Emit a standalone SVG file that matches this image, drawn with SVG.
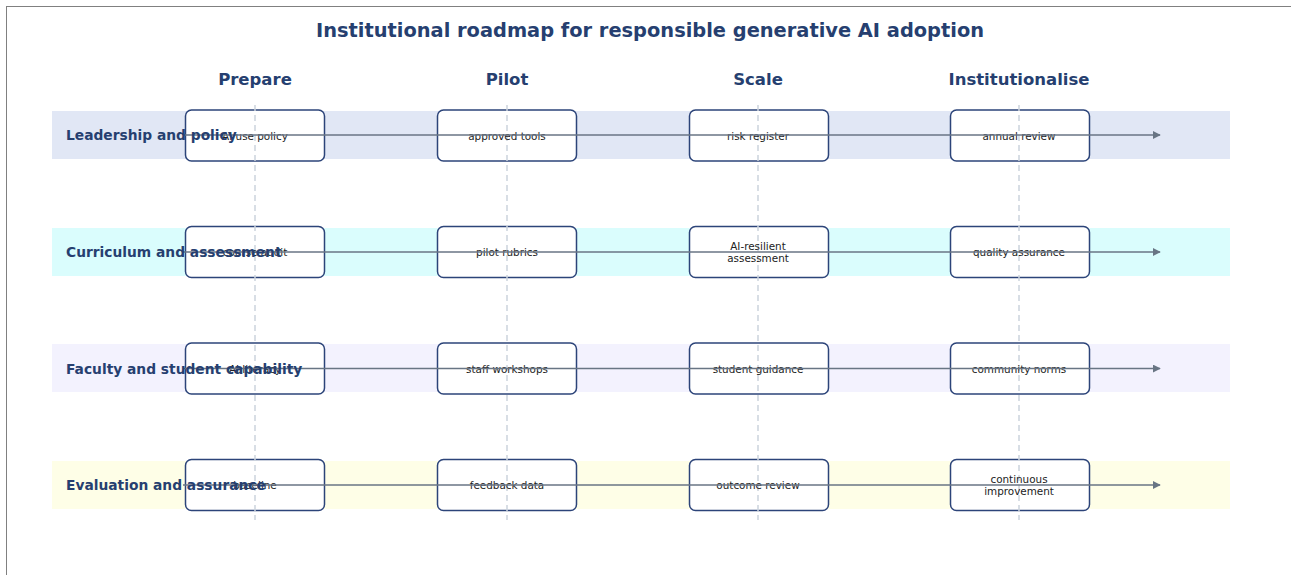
<svg xmlns="http://www.w3.org/2000/svg" width="1291" height="575" viewBox="0 0 1291 575">
  <defs>
    <marker id="arrow" viewBox="0 0 10 10" refX="9" refY="5" markerWidth="8" markerHeight="8" markerUnits="userSpaceOnUse" orient="auto">
      <path d="M0,0 L10,5 L0,10 z" fill="#687584"/>
    </marker>
    <style>
      .title { font-family: "DejaVu Sans", "Liberation Sans", sans-serif; font-weight: bold; font-size: 19.4px; fill: #263f70; text-anchor: middle; }
      .phase { font-family: "DejaVu Sans", "Liberation Sans", sans-serif; font-weight: bold; font-size: 16.5px; fill: #263f70; text-anchor: middle; }
      .lane { font-family: "DejaVu Sans", "Liberation Sans", sans-serif; font-weight: bold; font-size: 13.8px; fill: #263f70; dominant-baseline: central; }
      .box { fill: #ffffff; stroke: #2c4479; stroke-width: 1.5; }
      .label { font-family: "DejaVu Sans", "Liberation Sans", sans-serif; font-size: 10.4px; fill: #222222; text-anchor: middle; dominant-baseline: central; }
      .guide { stroke: #ccd3dd; stroke-width: 1.5; stroke-dasharray: 6 4; }
      .flow { stroke: #687584; stroke-width: 1.6; fill: none; marker-end: url(#arrow); }
    </style>
  </defs>

  <rect x="0" y="0" width="1291" height="575" fill="#ffffff"/>
  <rect x="6.5" y="6.5" width="1290" height="575" fill="none" stroke="#808080" stroke-width="1"/>

  <text class="title" x="650" y="37">Institutional roadmap for responsible generative AI adoption</text>

  <!-- phase headers -->
  <g id="phases">
    <text class="phase" x="255" y="85">Prepare</text>
    <text class="phase" x="507" y="85">Pilot</text>
    <text class="phase" x="758" y="85">Scale</text>
    <text class="phase" x="1019" y="85">Institutionalise</text>
  </g>

  <!-- swimlane bands -->
  <g id="bands">
    <rect x="52" y="111" width="1178" height="48" fill="#e1e7f5"/>
    <rect x="52" y="228" width="1178" height="48" fill="#dafdfd"/>
    <rect x="52" y="344" width="1178" height="48" fill="#f3f2fe"/>
    <rect x="52" y="461" width="1178" height="48" fill="#fefee7"/>
  </g>

  <!-- milestone boxes -->
  <g id="n-policy"><rect class="box" x="185.5" y="110" width="139" height="51" rx="6"/></g>
  <g id="n-tools"><rect class="box" x="437.5" y="110" width="139" height="51" rx="6"/></g>
  <g id="n-risk"><rect class="box" x="689.5" y="110" width="139" height="51" rx="6"/></g>
  <g id="n-annual"><rect class="box" x="950.5" y="110" width="139" height="51" rx="6"/></g>

  <g id="n-audit"><rect class="box" x="185.5" y="226.5" width="139" height="51" rx="6"/></g>
  <g id="n-rubrics"><rect class="box" x="437.5" y="226.5" width="139" height="51" rx="6"/></g>
  <g id="n-resilient"><rect class="box" x="689.5" y="226.5" width="139" height="51" rx="6"/></g>
  <g id="n-quality"><rect class="box" x="950.5" y="226.5" width="139" height="51" rx="6"/></g>

  <g id="n-literacy"><rect class="box" x="185.5" y="343" width="139" height="51" rx="6"/></g>
  <g id="n-workshops"><rect class="box" x="437.5" y="343" width="139" height="51" rx="6"/></g>
  <g id="n-guidance"><rect class="box" x="689.5" y="343" width="139" height="51" rx="6"/></g>
  <g id="n-norms"><rect class="box" x="950.5" y="343" width="139" height="51" rx="6"/></g>

  <g id="n-baseline"><rect class="box" x="185.5" y="459.5" width="139" height="51" rx="6"/></g>
  <g id="n-feedback"><rect class="box" x="437.5" y="459.5" width="139" height="51" rx="6"/></g>
  <g id="n-outcome"><rect class="box" x="689.5" y="459.5" width="139" height="51" rx="6"/></g>
  <g id="n-continuous"><rect class="box" x="950.5" y="459.5" width="139" height="51" rx="6"/></g>

  <!-- phase guides -->
  <g id="guides">
    <line class="guide" x1="255" y1="105" x2="255" y2="520"/>
    <line class="guide" x1="507" y1="105" x2="507" y2="520"/>
    <line class="guide" x1="758" y1="105" x2="758" y2="520"/>
    <line class="guide" x1="1019" y1="105" x2="1019" y2="520"/>
  </g>

  <!-- milestone labels -->
  <g id="labels">
    <text class="label" x="255" y="135.5">AI use policy</text>
    <text class="label" x="507" y="135.5">approved tools</text>
    <text class="label" x="758" y="135.5">risk register</text>
    <text class="label" x="1019" y="135.5">annual review</text>

    <text class="label" x="255" y="252">course audit</text>
    <text class="label" x="507" y="252">pilot rubrics</text>
    <text class="label" x="758" y="246">AI-resilient</text>
    <text class="label" x="758" y="258">assessment</text>
    <text class="label" x="1019" y="252">quality assurance</text>

    <text class="label" x="255" y="368.5">AI literacy</text>
    <text class="label" x="507" y="368.5">staff workshops</text>
    <text class="label" x="758" y="368.5">student guidance</text>
    <text class="label" x="1019" y="368.5">community norms</text>

    <text class="label" x="255" y="485">baseline</text>
    <text class="label" x="507" y="485">feedback data</text>
    <text class="label" x="758" y="485">outcome review</text>
    <text class="label" x="1019" y="479">continuous</text>
    <text class="label" x="1019" y="491">improvement</text>
  </g>

  <!-- lane flows -->
  <g id="connectors">
    <line class="flow" x1="183" y1="135" x2="1160" y2="135"/>
    <line class="flow" x1="183" y1="252" x2="1160" y2="252"/>
    <line class="flow" x1="183" y1="368.5" x2="1160" y2="368.5"/>
    <line class="flow" x1="183" y1="485" x2="1160" y2="485"/>
  </g>

  <!-- lane titles -->
  <g id="lanes">
    <text class="lane" x="66" y="135">Leadership and policy</text>
    <text class="lane" x="66" y="252">Curriculum and assessment</text>
    <text class="lane" x="66" y="368.5">Faculty and student capability</text>
    <text class="lane" x="66" y="485">Evaluation and assurance</text>
  </g>
</svg>
